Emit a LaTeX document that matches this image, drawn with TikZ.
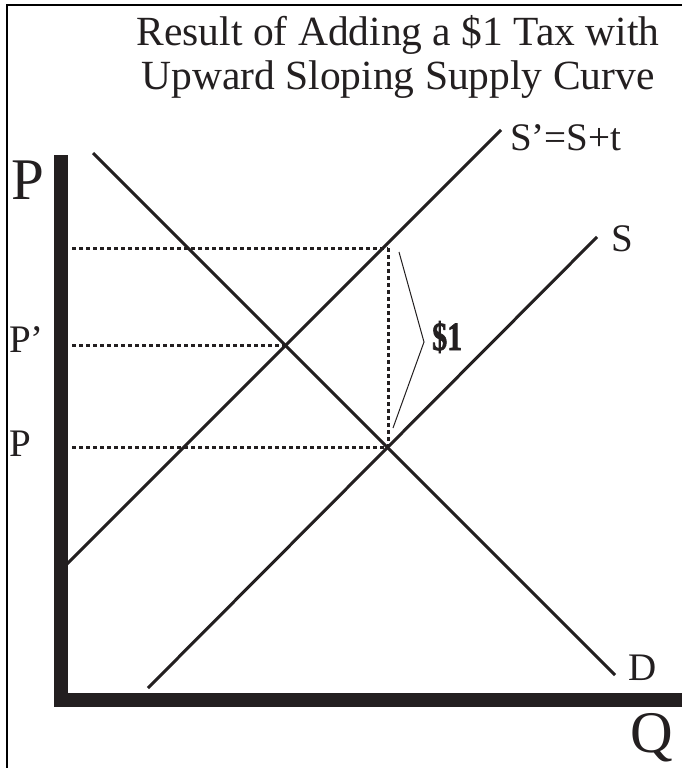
\documentclass[tikz,border=0pt]{standalone}
\usepackage{fontspec}
\setmainfont{Liberation Serif}
\newfontfamily\heavyfont{Liberation Serif Bold}[FakeBold=2]
\definecolor{ink}{HTML}{231F20}
\begin{document}
\begin{tikzpicture}[x=1pt,y=-1pt,
  lbl/.style={inner sep=0pt, anchor=base west, text=ink, font=\fontsize{39}{43}\selectfont},
  ttl/.style={inner sep=0pt, anchor=base, text=ink, font=\fontsize{41.5}{43}\selectfont},
  biglbl/.style={inner sep=0pt, anchor=base west, text=ink, font=\fontsize{59}{59}\selectfont},
  curve/.style={draw=ink, line width=3pt},
  guide/.style={draw=ink, line width=3pt, dash pattern=on 4pt off 3pt},
  brace/.style={draw=ink, line width=1pt},
  axis/.style={fill=ink}]
\useasboundingbox (0,0) rectangle (682,768);
\fill[white] (0,0) rectangle (682,768);
% frame
\draw[line width=2pt] (6.5,768) -- (6.5,5.5) -- (682,5.5);
% title
\node[ttl] (t1) at (398,46) {Result of Adding a \$1 Tax with};
\node[ttl] (t2) at (398,89) {Upward Sloping Supply Curve};
% points
\coordinate (d1) at (93,153);
\coordinate (d2) at (615,675);
\coordinate (sp1) at (66,565);
\coordinate (sp2) at (501,130);
\coordinate (s1) at (148,688);
\coordinate (s2) at (597,237);
\coordinate (eT) at (388,248);
\coordinate (eP) at (388,447);
\coordinate (eQ) at (285,345);
\coordinate (hT) at (72,248);
\coordinate (hP) at (72,447);
\coordinate (hQ) at (72,345);
\coordinate (b1) at (399,252);
\coordinate (b2) at (424,342);
\coordinate (b3) at (393,428);
% curves
\draw[curve] (d1) -- (d2);
\draw[curve] (sp1) -- (sp2);
\draw[curve] (s1) -- (s2);
% guides
\draw[guide] (hT) -- (eT);
\draw[guide] (eT) -- (eP);
\draw[guide] (hP) -- (eP);
\draw[guide] (hQ) -- (eQ);
% brace
\draw[brace] (b1) -- (b2) -- (b3);
% axes
\fill[axis] (54,155) rectangle (68,707);
\fill[axis] (54,693) rectangle (682,707);
% labels
\node[biglbl] (pax) at (11,199) {P};
\node[biglbl] (qax) at (630,752) {Q};
\node[lbl] (pp) at (9,352) {P’};
\node[lbl] (p0) at (9,456) {P};
\node[lbl] (dl) at (628,680) {D};
\node[lbl] (spl) at (510,150) {S’=S+t};
\node[lbl] (sl) at (611,251) {S};
\node[lbl] (one) at (432,350) {\scalebox{0.75}[1]{\heavyfont\fontsize{40}{43}\selectfont \$1}};
\end{tikzpicture}
\end{document}
